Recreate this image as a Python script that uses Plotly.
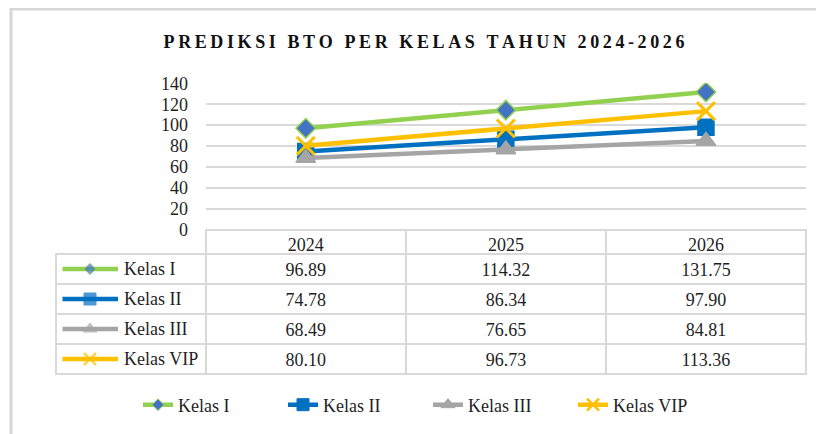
import plotly.graph_objects as go

W, H = 824, 434

years = ["2024", "2025", "2026"]
series_names = ["Kelas I", "Kelas II", "Kelas III", "Kelas VIP"]
kelas_i = [96.89, 114.32, 131.75]
kelas_ii = [74.78, 86.34, 97.90]
kelas_iii = [68.49, 76.65, 84.81]
kelas_vip = [80.10, 96.73, 113.36]
y_ticks = [0, 20, 40, 60, 80, 100, 120, 140]
title_text = "PREDIKSI BTO PER KELAS TAHUN 2024-2026"

series_values = [kelas_i, kelas_ii, kelas_iii, kelas_vip]
colors = ["#92D050", "#0070C0", "#A5A5A5", "#FFC000"]
symbols = ["diamond", "square", "triangle-up", "x-thin-open"]
marker_fill = ["#4472C4", "#0070C0", "#A5A5A5", "#FFC000"]
sizes = [15, 16, 17, 18]
key_sizes = [9, 12, 12, 12]

FONT = "'Liberation Serif', 'Times New Roman', serif"
TXT = "#1f1f1f"
GRID = "#D9D9D9"

OFF = 8  # page offset of the figure in the screenshot

def px_x(p):
    return (p - OFF) / W

def px_y(p):
    return 1 - (p - OFF) / H

# geometry (pixels, screenshot coordinates)
plot_l, plot_r = 205.7, 806
plot_t, plot_b = 83.3, 229.5
tab_l = 56
head_h, row_h = 24.5, 30
tab_b = plot_b + head_h + 4 * row_h

fig = go.Figure()

for name, vals, c, s, mf, sz in zip(series_names, series_values, colors, symbols, marker_fill, sizes):
    is_x = s.startswith("x")
    fig.add_trace(go.Scatter(
        x=years, y=vals, name=name, mode="lines+markers",
        line=dict(color=c, width=4.5),
        marker=dict(symbol=s, size=sz, color=mf,
                    line=dict(color=c, width=3 if is_x else 1.5)),
        xaxis="x", yaxis="y", showlegend=False,
    ))

# legend entries (smaller key markers like the reference)
for name, c, s, mf, ks in zip(series_names, colors, symbols, marker_fill, key_sizes):
    is_x = s.startswith("x")
    fig.add_trace(go.Scatter(
        x=[None], y=[None], name=name, mode="lines+markers",
        line=dict(color=c, width=4.5),
        marker=dict(symbol=s, size=ks, color=mf,
                    line=dict(color=c, width=2.5 if is_x else 1)),
        xaxis="x", yaxis="y", showlegend=True,
    ))

# Data table
fmt_cols = [[""] * 4] + [[f"{series_values[r][c]:.2f}" for r in range(4)] for c in range(3)]
fig.add_trace(go.Table(
    domain=dict(x=[px_x(tab_l), px_x(plot_r)], y=[px_y(tab_b + 2), px_y(plot_b)]),
    columnwidth=[plot_l - tab_l, 200, 200, 200],
    header=dict(values=[""] + years, height=head_h,
                fill=dict(color="rgba(0,0,0,0)"),
                line=dict(color=["rgba(0,0,0,0)", GRID, GRID, GRID], width=2),
                font=dict(family=FONT, size=18, color=TXT), align="center"),
    cells=dict(values=fmt_cols, height=row_h,
               fill=dict(color="rgba(0,0,0,0)"),
               line=dict(color=GRID, width=2),
               font=dict(family=FONT, size=18, color=TXT), align="center"),
))

# Legend keys inside table label column
key_rows = [15, 45, 75, 105]
for i, (name, c, s, mf, ks) in enumerate(zip(series_names, colors, symbols, marker_fill, key_sizes)):
    is_x = s.startswith("x")
    fig.add_trace(go.Scatter(
        x=[6.5, 34, 62], y=[key_rows[i]] * 3, mode="lines+markers",
        line=dict(color=c, width=4.5),
        marker=dict(symbol=[s, s, s], size=[0, ks, 0], color=mf,
                    line=dict(color=c, width=2.5 if is_x else 1)),
        xaxis="x2", yaxis="y2", showlegend=False, hoverinfo="skip",
    ))
    fig.add_annotation(x=65.5, y=key_rows[i], xref="x2", yref="y2", text=name,
                       showarrow=False, xanchor="left", yanchor="middle",
                       font=dict(family=FONT, size=18, color=TXT))

# spaced title
spaced = "\u2009".join(list(title_text))

fig.update_layout(
    width=W, height=H,
    margin=dict(l=0, r=0, t=0, b=0, autoexpand=False),
    paper_bgcolor="white", plot_bgcolor="rgba(0,0,0,0)",
    title=dict(text=spaced, x=px_x(424), y=px_y(42), xanchor="center", yanchor="middle",
               xref="paper", yref="paper",
               font=dict(family=FONT, size=18, color="#111111", weight="bold")),
    xaxis=dict(domain=[px_x(plot_l), px_x(plot_r)], type="category", range=[-0.5, 2.5],
               showticklabels=False, showgrid=False, zeroline=False, showline=False),
    yaxis=dict(domain=[px_y(plot_b), px_y(plot_t)], range=[0, 140], tickvals=y_ticks,
               showgrid=True, gridcolor=GRID, gridwidth=2, zeroline=False, showline=False,
               ticks="outside", ticklen=13, tickcolor="rgba(0,0,0,0)",
               tickfont=dict(family=FONT, size=18, color=TXT)),
    xaxis2=dict(domain=[px_x(tab_l), px_x(plot_l)], range=[0, plot_l - tab_l],
                visible=False, fixedrange=True),
    yaxis2=dict(domain=[px_y(tab_b), px_y(plot_b + head_h)], range=[120, 0],
                visible=False, fixedrange=True),
    legend=dict(orientation="h", x=px_x(428), xanchor="center", y=px_y(405), yanchor="middle",
                font=dict(family=FONT, size=18, color=TXT), bgcolor="rgba(0,0,0,0)",
                entrywidth=100, entrywidthmode="pixels", tracegroupgap=0),
    shapes=[dict(type="rect", xref="paper", yref="paper",
                 x0=px_x(11), x1=px_x(W + 30), y0=px_y(H + 30), y1=px_y(9),
                 line=dict(color="#D6D6D6", width=3), layer="below")],
    showlegend=True,
)

fig.write_html("out.html")
